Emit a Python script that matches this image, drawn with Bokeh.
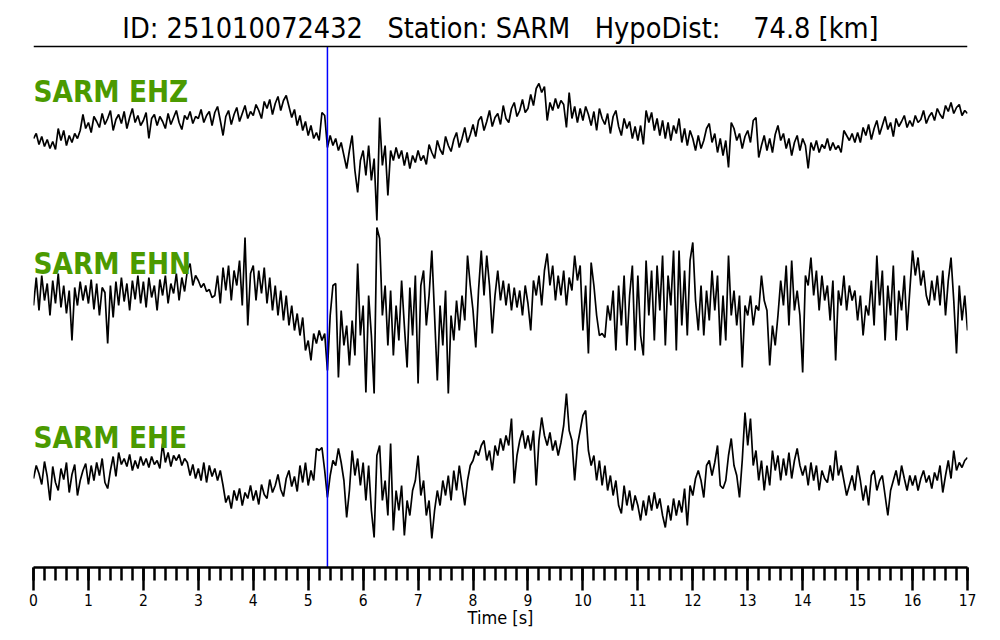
import numpy as np
from bokeh.plotting import figure
from bokeh.models import Range1d, FixedTicker
from bokeh.core.properties import value
from bokeh.embed import file_html
from bokeh.resources import INLINE

TITLE = "ID: 251010072432   Station: SARM   HypoDist:    74.8 [km]"
CHANNELS = ["SARM EHZ", "SARM EHN", "SARM EHE"]
DT = 0.05          # sampling interval of the traces [s]
P_PICK = 5.35      # pick time [s]
MAJOR_TICKS = list(range(0, 18))
MINOR_TICKS = [round(i * 0.2, 1) for i in range(0, 86)]

# trace amplitudes, one row per second
EHZ = [
    -8, -3, -14, -6, -16, -9, -18, -11, -19, 2, -10, 0, -15, -5, -12, -3, -8, 0, 16, 2,
    8, -2, 14, 9, 3, 17, 6, 12, 20, 0, 11, 16, 7, 19, 2, 13, 22, 8, 15, 5,
    10, 18, -8, 12, 16, 5, 14, 9, 2, 17, 6, 13, 20, 8, 1, 15, 11, 19, 7, 14,
    12, 21, 8, 15, 19, 5, 18, 24, 10, -5, 14, 20, 6, 16, 23, 9, 17, 25, 12, 19,
    15, 26, 20, 12, 29, 22, 31, 16, 27, 34, 20, 30, 35, 24, 13, 21, 5, 15, 0, 9,
    -5, 5, -8, -2, -10, 18, 15, -17, -5, -15, -8, -20, -12, -25, -38, -20, -5, -40, -62, -30,
    -20, -45, -15, -50, -28, -90, 13, -35, -15, -65, -20, -30, -17, -28, -20, -35, -22, -38, -25, -32,
    -20, -30, -25, -34, -14, -22, -28, -10, -19, -24, -6, -15, -21, -9, -2, -17, -8, 3, -12, -4,
    6, -6, 10, 14, 0, 9, 20, 4, 13, 17, 6, 25, 12, 8, 22, 28, 14, 20, 31, 18,
    22, 36, 25, 42, 47, 38, 44, 10, 28, 20, 32, 22, 30, 26, 3, 38, 12, 24, 8, 22,
    10, 24, 16, 5, 19, 0, 22, 12, 6, 17, -3, 14, 20, 4, -5, 12, 2, 9, -8, 4,
    -10, 5, -14, 20, 8, 18, 0, 12, -5, 10, -8, 8, -10, 5, -3, 12, -12, 2, -15, 0,
    -8, -20, -5, -18, -10, 2, 7, -12, -3, -22, -8, -25, -10, -37, 8, 2, -10, -3, -18, -6,
    0, -12, 10, 13, -27, -15, -5, -20, -8, -22, -4, 5, -10, -3, -18, -8, -25, -12, -5, -20,
    -8, -15, -38, -12, -20, -10, -22, -14, -18, -8, -20, -12, -19, -15, -22, 0, -5, -10, -3, -12,
    -2, -12, 3, -5, 6, -9, 2, 10, -4, 5, 14, 1, 8, -6, 12, 4, 9, 15, 3, 10,
    4, 15, 8, 11, 20, 7, 14, 18, 10, 22, 16, 12, 25, 19, 28, 17, 23, 26, 15, 20, 17,
]

EHN = [
    -10, 18, -15, 20, -5, 12, -20, 15, -8, 22, -12, 10, -18, 5, -45, 8, -10, 14, -5, 10,
    -8, 16, -14, 12, -20, 8, 3, -48, 10, -22, 14, -10, 18, -6, 12, -15, 15, -4, 20, -8,
    14, -12, 18, -2, 10, -15, 16, 0, 20, -8, 12, 2, 22, -5, 18, 4, 25, 32, 10, 20,
    15, 8, 12, 4, 6, -2, 0, 20, -8, 28, 5, 30, -5, 25, 10, 35, -10, 58, -30, 22,
    30, -5, 25, 2, 28, -8, 18, -15, 10, -20, 5, -25, 0, -30, -10, -35, -18, -40, -22, -55,
    -45, -65, -38, -48, -35, -45, -38, -75, -20, 10, 12, -82, -15, -50, -30, -70, -25, -60, 32, -40,
    -10, -97, 0, -40, -98, 68, 57, -20, 10, -50, 5, -60, -10, -45, 15, -30, -72, 8, -40, 20,
    -88, 10, 25, -30, 0, 45, -20, -85, -10, -50, 5, -98, -20, -45, -5, -35, 0, -25, 40, 10,
    -15, -52, 5, 45, 0, 40, 10, -38, 0, 25, -5, 15, -10, 12, -15, 8, -12, 5, -20, 10,
    -8, -35, 15, 0, 20, -10, 25, 42, 10, 30, -5, 20, 0, 25, -10, 18, 5, 40, 15, 30,
    -35, 10, -58, 33, 10, -20, -40, -38, -42, -10, -25, 5, -55, 10, -30, 20, -50, 0, 30, -55,
    20, -40, -60, 35, -20, 25, -45, 30, -15, 40, -50, 20, -10, 45, -55, 45, -30, 25, -40, 35,
    53, -5, -35, 10, -40, 5, -25, 25, -15, 20, -50, 0, -45, 40, -20, 5, -30, 0, -72, -10,
    -20, 0, -30, -10, -15, 20, -5, -15, -70, -30, -50, -20, 15, -10, 30, -30, 35, -15, 5, -20,
    -77, 20, 10, 38, 0, 25, -15, 20, -5, 10, -25, 15, -65, 5, -10, 20, -15, 10, -5, 5,
    -25, 0, -40, -10, -20, 15, -30, 40, -10, 25, -45, 10, -20, 30, -45, 5, -15, 20, -35, 5,
    45, 20, 38, 10, 25, 0, -10, 15, -5, 20, -10, 25, -20, 15, 38, -5, -58, 10, -25, 0, -35,
]

EHE = [
    -8, 5, -3, -14, 9, -6, -30, 4, -12, -20, 2, -9, 8, -22, -4, 6, -25, -10, 0, 7,
    -14, 5, -10, 8, -5, 12, -12, -18, 0, 14, -6, 18, 6, 12, 4, 16, 0, 10, 2, 14,
    5, 12, 3, 14, 6, 10, 2, 27, 8, 18, 4, 15, 10, 16, 5, 12, 8, -5, 6, -8,
    2, -10, 8, -12, 5, -6, 2, -10, 0, -15, -32, -25, -38, -20, -30, -18, -35, -22, -28, -15,
    -30, -20, -34, -14, -24, -28, -9, -22, -15, -4, -19, -26, -8, 0, -16, -6, -21, 5, -12, 8,
    -15, 0, -10, 22, 20, 23, 0, -27, -5, 10, 5, 22, 8, -10, -47, -20, 20, -5, 12, -15,
    8, -30, 5, -40, -67, 15, 25, -30, -10, -45, 27, -60, -20, -40, -15, -65, -30, -45, -20, -10,
    15, -25, -10, -45, -30, -68, -40, -20, -35, -10, -25, -5, -30, 0, -20, 5, -15, -35, -10, 5,
    10, 20, 15, 25, 30, 10, 20, 0, 25, 15, 32, 20, 35, 25, 52, -13, 15, 30, 40, 22,
    35, 20, 40, -15, 30, 53, 35, 25, 38, 20, 30, 15, 28, 45, 77, 40, 30, -10, 25, 40,
    55, 60, 20, 5, 15, -10, 10, -15, 5, -20, -5, -25, -10, -35, -43, -15, -35, -20, -40, -25,
    -35, -50, -30, -45, -25, -40, -22, -38, -28, -45, -57, -35, -50, -28, -45, -30, -42, -18, -55, -15,
    -25, -8, 0, -10, -27, 5, 10, -5, 8, 25, -15, -18, -10, 15, 32, 5, -5, -27, 10, 58,
    25, 52, 5, 20, -10, 10, -20, 5, -15, 20, 0, 15, -10, 12, -5, 18, -8, 10, 22, 5,
    -5, 5, -15, 8, -10, 5, -20, 0, -8, -12, 5, -10, 20, -5, 5, -10, -25, -15, -5, -20,
    5, -10, -30, -15, -35, -5, 0, -20, -10, -5, -25, -45, -20, -10, 0, -15, 5, -8, -20, -5,
    -15, -5, -20, -8, 0, -12, -5, -18, -2, -10, 5, -22, -5, 10, -8, 20, 0, 8, 3, 10, 13,
]

TRACES = [EHZ, EHN, EHE]

# layout (y in screen pixels counted up from the time axis)
BASELINES = [437, 272, 97]
LABEL_Y = [476, 304, 130]
RULE_Y = 521
TITLE_Y = 540
GREEN = "#4b9a00"
COND = "DejaVu Sans Condensed, DejaVu Sans"

p = figure(width=1000, height=640,
           x_range=Range1d(0, 17), y_range=Range1d(0, 567),
           output_backend="svg", toolbar_location=None,
           y_axis_location=None,
           min_border_left=33, min_border_right=33,
           min_border_top=0, min_border_bottom=73)
p.outline_line_color = None
p.xgrid.visible = False
p.ygrid.visible = False
p.background_fill_color = "white"
p.border_fill_color = "white"

ax = p.xaxis[0]
ax.ticker = FixedTicker(ticks=MAJOR_TICKS, minor_ticks=MINOR_TICKS)
ax.axis_line_width = 2.5
ax.major_tick_out = 23
ax.major_tick_in = 0
ax.minor_tick_out = 13
ax.minor_tick_in = 0
ax.major_tick_line_width = 2.5
ax.minor_tick_line_width = 2.5
ax.major_label_standoff = 3
ax.major_label_text_font = COND
ax.major_label_text_font_size = "15.5px"
ax.major_label_text_color = "black"
ax.axis_label = "Time [s]"
ax.axis_label_text_font = COND
ax.axis_label_text_font_size = "18px"
ax.axis_label_text_font_style = "normal"
ax.axis_label_text_color = "black"
ax.axis_label_standoff = -2

for tr, base in zip(TRACES, BASELINES):
    t = np.arange(len(tr)) * DT
    p.line(t, np.array(tr, dtype=float) + base, line_color="black", line_width=1.7)

p.segment(x0=[P_PICK], y0=[0], x1=[P_PICK], y1=[RULE_Y], line_color="#0000ff", line_width=1.5)
p.segment(x0=[0], y0=[RULE_Y], x1=[17], y1=[RULE_Y], line_color="black", line_width=1.6)

# non-breaking spaces keep the title's wide gaps in the SVG output
p.text(x=[8.5], y=[TITLE_Y], text=[TITLE.replace(" ", "\u00a0")], text_align="center",
       text_baseline="middle", text_font=value(COND), text_font_size="28.6px",
       text_color="black")

p.text(x=[0, 0, 0], y=LABEL_Y, text=CHANNELS, text_align="left", text_baseline="middle",
       text_font=value(COND), text_font_style="bold", text_font_size="29.4px",
       text_color=GREEN)

open("out.html", "w").write(file_html(p, INLINE))
